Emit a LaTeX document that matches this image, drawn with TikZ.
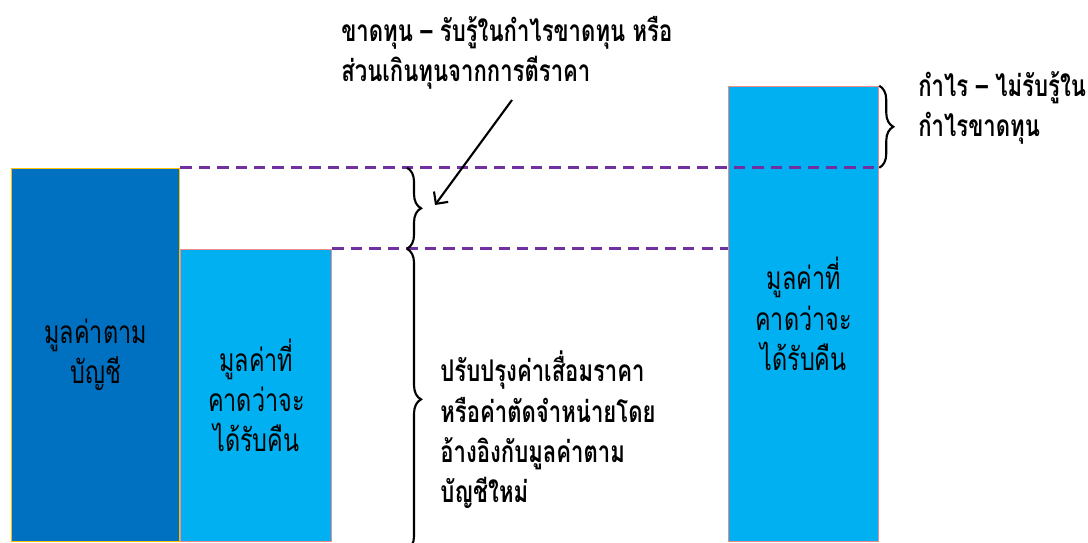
\documentclass[tikz,border=0pt]{standalone}
\usepackage{fontspec}
\newfontfamily\thaifont[Script=Thai, FakeStretch=0.74]{Loma}
\newfontfamily\thainote[Script=Thai, FakeStretch=0.74]{Loma}
\usetikzlibrary{positioning, decorations.pathreplacing, arrows.meta}
\definecolor{bookblue}{HTML}{0070C0}
\definecolor{skyblue}{HTML}{00B0F0}
\definecolor{linepurple}{HTML}{7030A0}
\definecolor{edgepink}{HTML}{F08A8A}
\definecolor{edgegold}{HTML}{FFC000}

\begin{document}
\begin{tikzpicture}[
    bar/.style={minimum width=#1, anchor=south west, align=center, inner sep=0pt,
      line width=0.7pt, font=\thaifont\fontsize{18}{23}\selectfont},
    level/.style={draw=linepurple, line width=1.8pt, dash pattern=on 6.5pt off 4pt},
    curly/.style={decorate, decoration={brace, amplitude=8pt}, line width=1.2pt},
    note/.style={align=left, inner sep=0pt, font=\thainote\bfseries\fontsize{17}{23}\selectfont}]
    \useasboundingbox (0,0) rectangle (21.76,10.84);
    \clip (0,0) rectangle (21.76,10.84);
    % bars
    \node[bar=3.36cm, minimum height=7.46cm, fill=bookblue, draw=edgegold] (book) at (0.22,0) {มูลค่าตาม\\บัญชี};
    \node[bar=3.02cm, minimum height=5.84cm, fill=skyblue, draw=edgepink] (recover) at (book.south east) {มูลค่าที่\\คาดว่าจะ\\ได้รับคืน};
    \node[bar=3.0cm, minimum height=9.1cm, fill=skyblue, draw=edgepink] (recover2) at (14.56,0) {มูลค่าที่\\คาดว่าจะ\\ได้รับคืน};
    % dashed levels
    \draw[level] (book.north east) -- (book.north -| recover2.east);
    \draw[level] (recover.north east) -- (recover.north -| recover2.west);
    % braces
    \coordinate (mark) at (8.14,0);
    \coordinate (low) at (8.14,-0.16);
    \draw[curly] (book.north -| mark) -- (recover.north -| mark);
    \draw[curly] (recover.north -| mark) -- (low);
    \draw[curly] (recover2.north east) -- (book.north -| recover2.east);
    % notes
    \node[note, anchor=north west] (loss) at (6.82,10.52) {ขาดทุน – รับรู้ในกำไรขาดทุน หรือ\\ส่วนเกินทุนจากการตีราคา};
    \node[note, anchor=west] (gain) at (18.36,8.68) {กำไร – ไม่รับรู้ใน\\กำไรขาดทุน};
    \node[note, anchor=west] (adjust) at (8.8,2.24) {ปรับปรุงค่าเสื่อมราคา\\หรือค่าตัดจำหน่ายโดย\\อ้างอิงกับมูลค่าตาม\\บัญชีใหม่};
    \coordinate (tail) at (10.24,8.84);
    \coordinate (tip) at (8.7,6.74);
    \draw[line width=1.2pt, -{Straight Barb[length=5pt, width=10pt]}] (tail) -- (tip);
\end{tikzpicture}
\end{document}
